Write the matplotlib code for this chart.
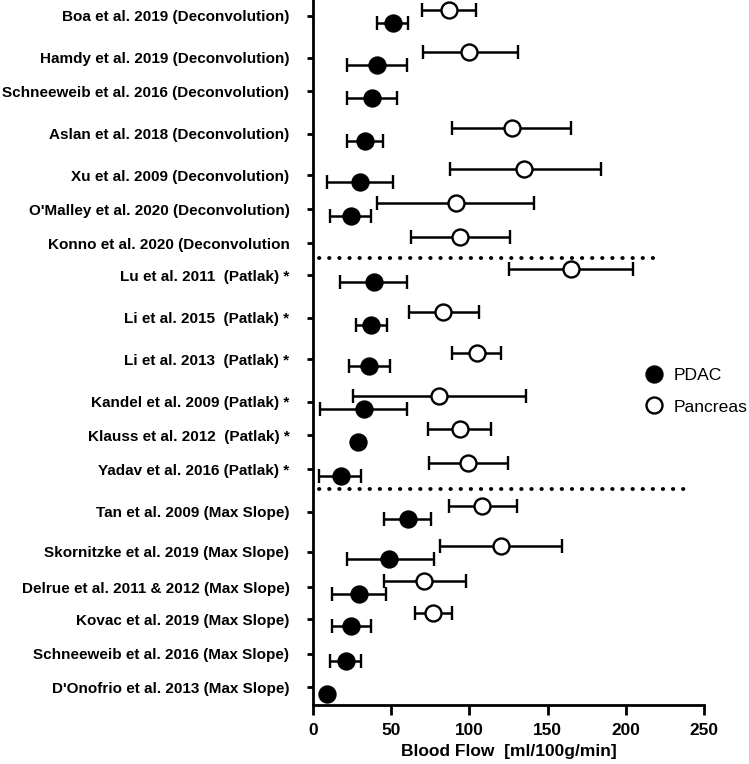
import numpy as np
import matplotlib
matplotlib.use('Agg')
import matplotlib.pyplot as plt
from matplotlib.lines import Line2D

plt.rcParams['font.family'] = ['Liberation Sans', 'DejaVu Sans']

studies = [
  'Boa et al. 2019 (Deconvolution)',
  'Hamdy et al. 2019 (Deconvolution)',
  'Schneeweib et al. 2016 (Deconvolution)',
  'Aslan et al. 2018 (Deconvolution)',
  'Xu et al. 2009 (Deconvolution)',
  "O'Malley et al. 2020 (Deconvolution)",
  'Konno et al. 2020 (Deconvolution',
  'Lu et al. 2011  (Patlak) *',
  'Li et al. 2015  (Patlak) *',
  'Li et al. 2013  (Patlak) *',
  'Kandel et al. 2009 (Patlak) *',
  'Klauss et al. 2012  (Patlak) *',
  'Yadav et al. 2016 (Patlak) *',
  'Tan et al. 2009 (Max Slope)',
  'Skornitzke et al. 2019 (Max Slope)',
  'Delrue et al. 2011 & 2012 (Max Slope)',
  'Kovac et al. 2019 (Max Slope)',
  'Schneeweib et al. 2016 (Max Slope)',
  "D'Onofrio et al. 2013 (Max Slope)",
]
# vertical position of each study row (rows are not evenly spaced)
row_pos = [1.6, 5.8, 9.1, 13.4, 17.5, 20.9, 24.3, 27.5, 31.8, 35.9,
           40.2, 43.5, 46.9, 51.2, 55.2, 58.7, 61.9, 65.4, 68.7]

nan = np.nan
pdac_mean = [51, 40.7, 37.5, 33, 30, 24.3, nan, 39, 37, 36,
             32.6, 29, 18, 60.5, 48.8, 29.4, 24.3, 21, 8.7]
pdac_lo   = [41, 21.5, 21.5, 21.5, 8.7, 11, nan, 17.3, 27.5, 23,
             4.5, 29, 4, 45.6, 21.5, 12, 12, 11, 8.7]
pdac_hi   = [60.7, 60, 53.5, 45, 51.3, 37, nan, 60.3, 47, 49,
             60.3, 29, 31, 75.4, 77.3, 46.4, 37, 30.5, 8.7]

panc_mean = [87, 100, nan, 127, 135, 91.4, 94, 165, 83.3, 105,
             80.7, 94, 99.3, 108.2, 120, 71, 76.5, nan, nan]
panc_lo   = [70, 70.5, nan, 88.6, 87.5, 41, 62.6, 125, 61.5, 89,
             25.3, 73.7, 74, 87, 81.2, 45.6, 65.2, nan, nan]
panc_hi   = [104, 131, nan, 165, 184, 141.4, 125.9, 204.7, 106, 120.5,
             136, 113.5, 124.4, 130.3, 159.5, 97.8, 88.6, nan, nan]

# group separators (dotted lines): y, x end
sep_y = [25.8, 48.9]
sep_xend = [221, 239]


def draw_series(ax, mean, lo, hi, offset, face):
  mean = np.array(mean); lo = np.array(lo); hi = np.array(hi)
  ok = ~np.isnan(mean)
  y = np.array(row_pos)[ok] + offset
  xerr = [mean[ok] - lo[ok], hi[ok] - mean[ok]]
  ax.errorbar(mean[ok], y, xerr=xerr, fmt='o', color='black', ecolor='black',
              elinewidth=1.8, capsize=5, capthick=1.8, markersize=11.5,
              markerfacecolor=face, markeredgecolor='black', markeredgewidth=1.7,
              zorder=3, clip_on=False)


fig = plt.figure(figsize=(7.49, 7.64), dpi=100)
ax = fig.add_axes([313/749, 1 - 705/764, (704 - 313)/749, 705/764])

draw_series(ax, panc_mean, panc_lo, panc_hi, -0.6, 'white')
draw_series(ax, pdac_mean, pdac_lo, pdac_hi, 0.7, 'black')

for y, xe in zip(sep_y, sep_xend):
  ax.plot([4, xe], [y, y], color='black', lw=2.8, linestyle=(0, (0.1, 2.5)),
          dash_capstyle='round', solid_capstyle='round', clip_on=False)

ax.set_xlim(0, 250)
ax.set_ylim(70.5, 0)
ax.set_yticks(row_pos)
ax.set_yticklabels(studies, fontsize=11, fontweight='bold')
ax.set_xticks([0, 50, 100, 150, 200, 250])
ax.tick_params(axis='x', labelsize=12.4, width=2, length=7, pad=6)
for t in ax.get_xticklabels():
  t.set_fontweight('bold')
ax.tick_params(axis='y', width=2, length=4, pad=13)
ax.set_xlabel('Blood Flow  [ml/100g/min]', fontsize=12.5, fontweight='bold', labelpad=4)

for s in ['top', 'right']:
  ax.spines[s].set_visible(False)
for s in ['left', 'bottom']:
  ax.spines[s].set_linewidth(2)

handles = [
  Line2D([], [], marker='o', ls='none', markersize=11.5, markerfacecolor='black',
         markeredgecolor='black', markeredgewidth=1.7),
  Line2D([], [], marker='o', ls='none', markersize=11.5, markerfacecolor='white',
         markeredgecolor='black', markeredgewidth=1.7),
]
fig.legend(handles, ['PDAC', 'Pancreas'], loc='center left',
           bbox_to_anchor=(628/749, 1 - 391/764), frameon=False, fontsize=12.6,
           labelspacing=0.95, handletextpad=0.5, handlelength=1.2)

fig.savefig('out.png', dpi=100)
